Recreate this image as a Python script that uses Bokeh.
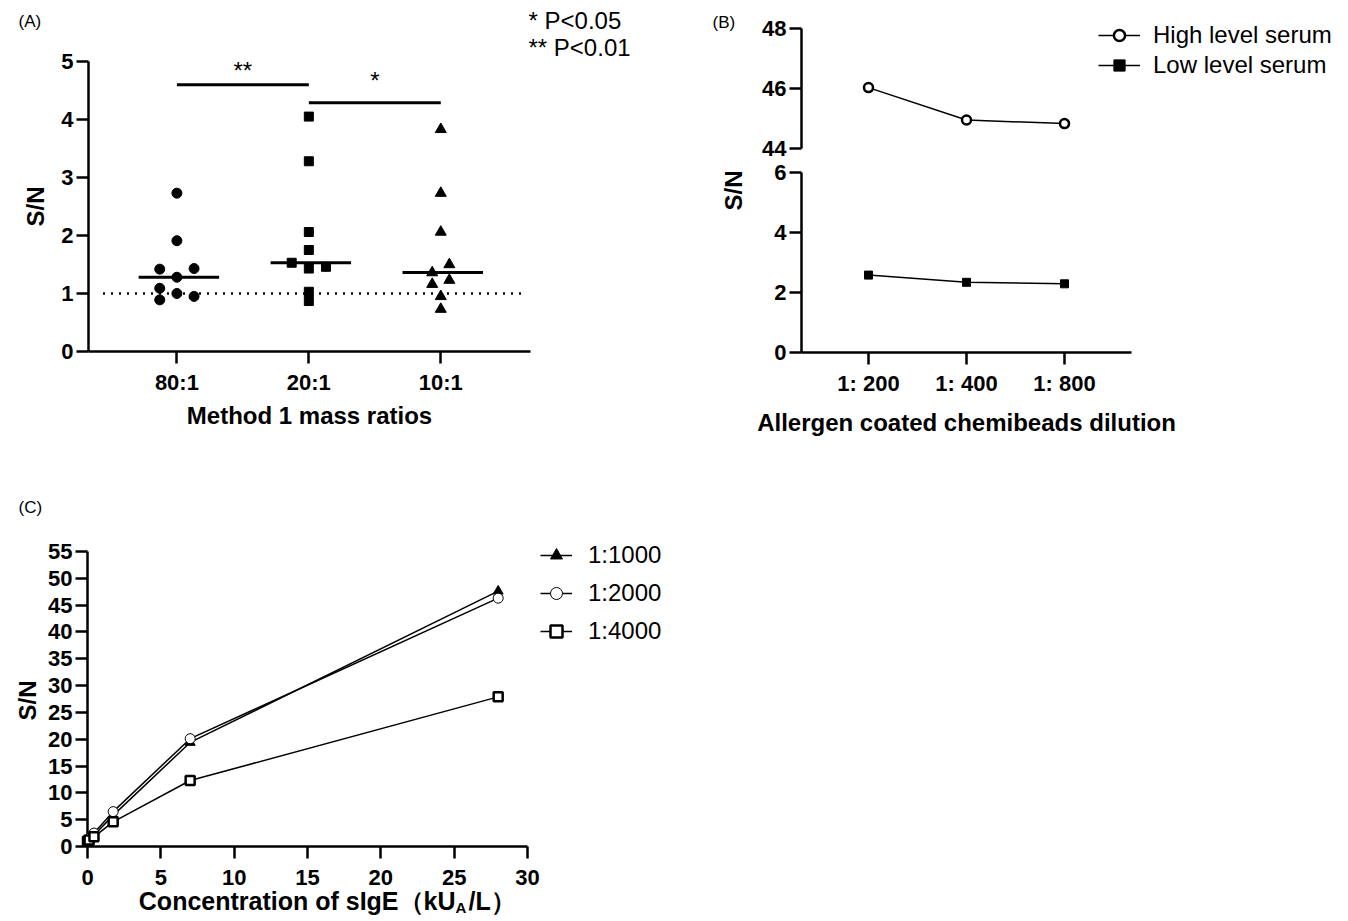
import numpy as np
from bokeh.plotting import figure
from bokeh.models import Range1d, FixedTicker, Label, Legend, LegendItem
from bokeh.core.properties import value
from bokeh.layouts import row, column
from bokeh.embed import file_html
from bokeh.resources import INLINE

# ---------------- data ----------------
# Panel A
ratio_labels = ["80:1", "20:1", "10:1"]
sn_80 = [2.73, 1.91, 1.42, 1.43, 1.28, 1.09, 1.00, 0.95, 0.89]
sn_20 = [4.05, 3.28, 2.06, 1.75, 1.53, 1.46, 1.43, 1.03, 0.87]
sn_10 = [3.83, 2.73, 2.06, 1.50, 1.36, 1.23, 1.16, 0.95, 0.73]
jit_80 = [0, 0, -0.13, 0.13, 0, -0.13, 0, 0.13, -0.13]
jit_20 = [0, 0, 0, 0, -0.13, 0.13, 0, 0, 0]
jit_10 = [0, 0, 0, 0.065, -0.065, 0.065, -0.065, 0, 0]
cutoff = 1.0
sig_left = [1, 2]
sig_right = [2, 3]
sig_level = [4.6, 4.29]
sig_text = ["**", "*"]
sig_text_y = [4.84, 4.68]
sig_notes = ["* P<0.05", "** P<0.01"]

# Panel B
dilution_labels = ["1: 200", "1: 400", "1: 800"]
high_serum = [46.03, 44.95, 44.83]
low_serum = [2.58, 2.34, 2.29]

# Panel C
conc = [0, 0.11, 0.44, 1.75, 7, 28]
sn_1000 = [1.0, 1.3, 2.1, 5.8, 19.4, 47.6]
sn_2000 = [1.0, 1.5, 2.5, 6.5, 20.1, 46.3]
sn_4000 = [1.0, 1.2, 1.8, 4.6, 12.3, 27.9]

FONT = "Liberation Sans"


def style_axis(ax, size="22px"):
    ax.axis_line_width = 2.5
    ax.axis_line_color = "black"
    ax.major_tick_line_width = 2.5
    ax.major_tick_line_color = "black"
    ax.major_tick_out = 12
    ax.major_tick_in = 0
    ax.minor_tick_line_color = None
    ax.major_label_text_font = FONT
    ax.major_label_text_font_style = "bold"
    ax.major_label_text_font_size = size
    ax.major_label_text_color = "black"
    ax.axis_label_text_font = FONT
    ax.axis_label_text_font_style = "bold"
    ax.axis_label_text_font_size = "24px"
    ax.axis_label_text_color = "black"


def base_fig(w, h, l, r, t, b, xr, yr):
    p = figure(width=w, height=h, min_border_left=l, min_border_right=r,
               min_border_top=t, min_border_bottom=b, x_range=xr, y_range=yr,
               output_backend="svg", toolbar_location=None)
    p.outline_line_color = None
    p.xgrid.visible = False
    p.ygrid.visible = False
    p.background_fill_color = "white"
    p.border_fill_color = "white"
    return p


def free_text(p, x, y, txt, size, style="normal", align="left", angle=0.0):
    r = p.text(x=[x], y=[y], text=[txt], angle=angle, text_font=value(FONT),
               text_font_size=value(size), text_font_style=style, text_align=align,
               text_baseline="middle", text_color="black")
    r.level = "overlay"
    return r


# ---------------- Panel A ----------------
# frame: left 88 .. right 530, top 61 .. bottom 351
A_X0, A_X1 = 0.33, 3.68
A_PX = 442 / (A_X1 - A_X0)
A_PY = 290 / 5.0
pA = base_fig(700, 440, 88, 170, 61, 89, Range1d(A_X0, A_X1), Range1d(0, 5))
style_axis(pA.xaxis[0])
style_axis(pA.yaxis[0])
pA.xaxis.ticker = FixedTicker(ticks=[1, 2, 3])
pA.xaxis.major_label_overrides = {1: ratio_labels[0], 2: ratio_labels[1], 3: ratio_labels[2]}
pA.xaxis.major_label_standoff = 6
pA.xaxis.axis_label = "Method 1 mass ratios"
pA.xaxis.axis_label_standoff = 4
pA.yaxis.ticker = FixedTicker(ticks=[0, 1, 2, 3, 4, 5])
pA.yaxis.major_label_standoff = 3
pA.yaxis.axis_label = "S/N"
pA.yaxis.axis_label_standoff = 9

pA.line([0.44, 3.61], [cutoff, cutoff], line_color="black", line_width=2.5, line_dash="2 6")

groups = [(sn_80, jit_80, "circle", 10), (sn_20, jit_20, "square", 9), (sn_10, jit_10, "triangle", 11)]
for i, (vals, jit, mk, sz) in enumerate(groups):
    c = i + 1
    xs = [c + j for j in jit]
    pA.scatter(xs, vals, marker=mk, size=sz, fill_color="black", line_color="black")
    med = float(np.median(vals))
    pA.segment(x0=[c - 0.29], y0=[med], x1=[c + 0.32], y1=[med], line_color="black", line_width=3)

pA.segment(x0=sig_left, y0=sig_level, x1=sig_right, y1=sig_level, line_color="black", line_width=3)
for xl, xr_, ty, st in zip(sig_left, sig_right, sig_text_y, sig_text):
    pA.add_layout(Label(x=(xl + xr_) / 2, y=ty, text=st, text_align="center",
                        text_baseline="middle", text_font=FONT, text_font_size="24px",
                        text_color="black"))
for k, note in enumerate(sig_notes):
    free_text(pA, A_X0 + (528 - 88) / A_PX, (351 - 20 - 27 * k) / A_PY, note, "24px")
free_text(pA, A_X0 + (18 - 88) / A_PX, (351 - 21) / A_PY, "(A)", "17px")

# ---------------- Panel B ----------------
xB = [1, 2, 3]
B_X0, B_PX, B_PY = 0.3163, 98.0, 30.0
xrB = Range1d(B_X0, B_X0 + 547 / B_PX)      # frames span 801 .. 1348
# top part: frame top 0 .. bottom 148
pBt = base_fig(648, 160, 101, 0, 0, 12, xrB, Range1d(44, 44 + 148 / B_PY))
pBt.xaxis.visible = False
style_axis(pBt.yaxis[0])
pBt.yaxis.bounds = (44, 48)
pBt.yaxis.ticker = FixedTicker(ticks=[44, 46, 48])
pBt.yaxis.major_label_standoff = 3

hl = pBt.line(xB, high_serum, line_color="black", line_width=1.5)
hs = pBt.scatter(xB, high_serum, marker="circle", size=9, fill_color="white",
                 line_color="black", line_width=2.5)
# the low-level series also sits in this (44-48) panel's renderers, off-range,
# only so that the shared legend can show its line+marker style
ll_p = pBt.line(xB, low_serum, line_color="black", line_width=1.5)
ls_p = pBt.scatter(xB, low_serum, marker="square", size=8, fill_color="black", line_color="black")
legB = Legend(items=[LegendItem(label="High level serum", renderers=[hl, hs]),
                     LegendItem(label="Low level serum", renderers=[ll_p, ls_p])],
              location=(1098 - 801, 148 - 79), glyph_width=42, glyph_height=28, label_height=28,
              spacing=2, padding=0, margin=0, label_standoff=13,
              border_line_color=None, background_fill_alpha=0,
              label_text_font=FONT, label_text_font_size="24px", label_text_color="black")
pBt.add_layout(legB)
free_text(pBt, B_X0 + (712 - 801) / B_PX, 44 + (148 - 22) / B_PY, "(B)", "17px")

# bottom part: frame top 172 .. bottom 352, axis drawn 801 .. 1131
pBb = base_fig(648, 280, 101, 0, 12, 88, xrB, Range1d(0, 6))
style_axis(pBb.xaxis[0])
style_axis(pBb.yaxis[0])
pBb.xaxis.bounds = (B_X0, B_X0 + 330 / B_PX)
pBb.xaxis.ticker = FixedTicker(ticks=xB)
pBb.xaxis.major_label_overrides = {1: dilution_labels[0], 2: dilution_labels[1], 3: dilution_labels[2]}
pBb.xaxis.major_label_standoff = 6
pBb.yaxis.ticker = FixedTicker(ticks=[0, 2, 4, 6])
pBb.yaxis.major_label_standoff = 3
pBb.line(xB, low_serum, line_color="black", line_width=1.5)
pBb.scatter(xB, low_serum, marker="square", size=8, fill_color="black", line_color="black")
free_text(pBb, B_X0 + (733 - 801) / B_PX, (352 - 190) / B_PY, "S/N", "24px",
          style="bold", align="center", angle=np.pi / 2)
free_text(pBb, B_X0 + (966 - 801) / B_PX, (352 - 422) / B_PY, "Allergen coated chemibeads dilution",
          "24px", style="bold", align="center")

# ---------------- Panel C ----------------
# frame: left 87 .. right 700, top 530 .. bottom 846 (figure spans 440..921);
# axes drawn for x 0..30 and y 0..55 (440 x 295 px)
C_PX = 440 / 30.0
C_PY = 295 / 55.0
pC = base_fig(700, 481, 87, 0, 90, 75, Range1d(0, 613 / C_PX), Range1d(0, 316 / C_PY))
style_axis(pC.xaxis[0])
style_axis(pC.yaxis[0])
pC.xaxis.bounds = (0, 30)
pC.yaxis.bounds = (0, 55)
pC.xaxis.ticker = FixedTicker(ticks=[0, 5, 10, 15, 20, 25, 30])
pC.xaxis.major_label_standoff = 11
pC.yaxis.ticker = FixedTicker(ticks=list(range(0, 56, 5)))
pC.yaxis.major_label_standoff = 3

series = [("1:1000", sn_1000, dict(marker="triangle", size=10, fill_color="black", line_color="black", line_width=1)),
          ("1:2000", sn_2000, dict(marker="circle", size=10, fill_color="white", line_color="black", line_width=1)),
          ("1:4000", sn_4000, dict(marker="square", size=9, fill_color="white", line_color="black", line_width=2.5))]
items = []
for name, vals, st in series:
    rl = pC.line(conc, vals, line_color="black", line_width=1.5)
    rs = pC.scatter(conc, vals, **st)
    rl.level = "overlay"
    rs.level = "overlay"
    items.append(LegendItem(label=name, renderers=[rl, rs]))
legC = Legend(items=items, location=(540 - 87, 846 - 646), glyph_width=32, glyph_height=30, label_height=30,
              spacing=8, padding=0, margin=0, label_standoff=16, border_line_color=None,
              background_fill_alpha=0, label_text_font=FONT, label_text_font_size="24px",
              label_text_color="black")
pC.add_layout(legC)

free_text(pC, (27 - 87) / C_PX, (846 - 700) / C_PY, "S/N", "24px", style="bold",
          align="center", angle=np.pi / 2)
split_px = 455
free_text(pC, (split_px - 87) / C_PX, (846 - 900) / C_PY, "Concentration of sIgE（kU", "25px",
          style="bold", align="right")
free_text(pC, (split_px - 87) / C_PX, (846 - 907) / C_PY, "A", "15px", style="bold")
free_text(pC, (split_px + 13 - 87) / C_PX, (846 - 900) / C_PY, "/L）", "25px", style="bold")
free_text(pC, (18 - 87) / C_PX, (846 - 507) / C_PY, "(C)", "17px")

layout = column(row(pA, column(pBt, pBb)), pC)
open("out.html", "w").write(file_html(layout, INLINE))
